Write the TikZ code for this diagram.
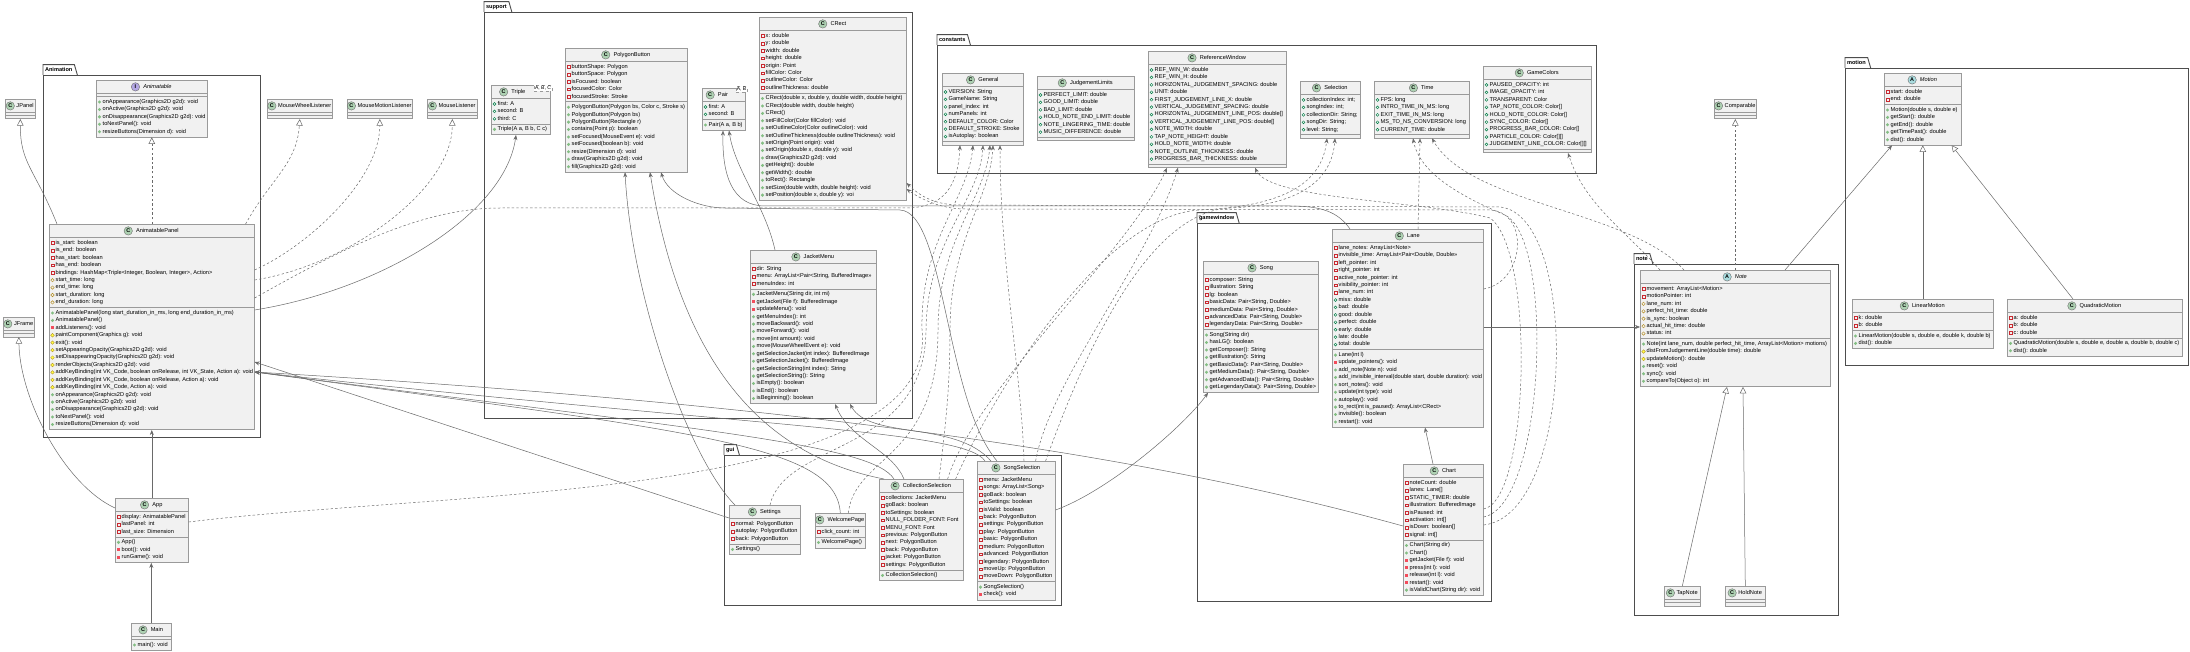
\documentclass[tikz,border=0pt]{standalone}
\usepackage{fontspec}
\setmainfont{Liberation Sans}
\usetikzlibrary{arrows.meta,calc}

\definecolor{boxfill}{HTML}{F1F1F1}
\definecolor{boxline}{HTML}{9A9A9A}
\definecolor{pkgline}{HTML}{4D4D4D}
\definecolor{conn}{HTML}{6A6A6A}
\definecolor{kcC}{HTML}{ADD1B2}
\definecolor{kcA}{HTML}{A9DCDF}
\definecolor{kcI}{HTML}{B4A7E5}
\definecolor{icondraw}{HTML}{6E6E6E}
\definecolor{pubF}{HTML}{038048}
\definecolor{pubM}{HTML}{84BE84}
\definecolor{privF}{HTML}{C82930}
\definecolor{privM}{HTML}{F24D5C}
\definecolor{protF}{HTML}{B38D22}
\definecolor{protM}{HTML}{FFFF44}

\newcommand\memfont{\fontsize{5.65}{6.5}\selectfont}
\newcommand\kindfont{\fontsize{5.4}{6}\selectfont\bfseries}
\newcommand\pkgfont{\fontsize{5.6}{6.5}\selectfont\bfseries}
\newcommand\tmplfont{\fontsize{5}{6}\selectfont}
\newcommand\kfC{}
\newcommand\kfA{\itshape}
\newcommand\kfI{\itshape}
\newcommand\ttlshift{0}

\tikzset{
  box/.style={draw=boxline, fill=boxfill, line width=0.6pt, inner sep=0pt, anchor=north west},
  sepline/.style={draw=boxline, line width=0.6pt},
  mem/.style={font=\memfont, anchor=west, inner sep=0pt, text height=4pt, text depth=1.2pt},
  ttl/.style={font=\memfont, inner sep=0pt, text height=4.1pt, text depth=1.2pt},
  kindletter/.style={font=\kindfont, inner sep=0pt, text height=3.8pt, text depth=0pt},
  kindcircle/.style={draw=icondraw, line width=0.4pt},
  pkgbox/.style={draw=pkgline, fill=white, line width=0.9pt, inner sep=0pt, anchor=north west},
  pkgtab/.style={font=\pkgfont, anchor=south west, inner xsep=1.8pt, inner ysep=0pt, text height=4.4pt, text depth=1.4pt, minimum height=10pt},
  pkgedge/.style={draw=pkgline, line width=0.9pt},
  tmpl/.style={draw=boxline, dashed, fill=white, font=\tmplfont, inner xsep=1pt, inner ysep=0.8pt, line width=0.5pt},
  assoc/.style={draw=conn, line width=0.5pt, -{Stealth[length=5pt,width=4pt]}},
  dep/.style={assoc, dash pattern=on 2.4pt off 2.2pt},
  ext/.style={draw=conn, line width=0.5pt, -{Triangle[length=6.5pt,width=6.5pt,fill=white]}},
  impl/.style={ext, dash pattern=on 2.4pt off 2.2pt}
}

\newcommand\icFp[2]{\draw[draw=pubF, line width=0.45pt] (#1,#2) circle (1.45pt);}
\newcommand\icMp[2]{\fill[pubM] (#1,#2) circle (1.65pt);}
\newcommand\icFr[2]{\draw[draw=privF, line width=0.45pt] ({#1-1.4},{#2-1.4}) rectangle ({#1+1.4},{#2+1.4});}
\newcommand\icMr[2]{\fill[privM] ({#1-1.55},{#2-1.55}) rectangle ({#1+1.55},{#2+1.55});}
\newcommand\icFo[2]{\draw[draw=protF, line width=0.45pt] ({#1-1.7},#2) -- (#1,{#2-1.7}) -- ({#1+1.7},#2) -- (#1,{#2+1.7}) -- cycle;}
\newcommand\icMo[2]{\filldraw[fill=protM, draw=protF, line width=0.35pt] ({#1-1.8},#2) -- (#1,{#2-1.8}) -- ({#1+1.8},#2) -- (#1,{#2+1.8}) -- cycle;}

% id, L, T, W, kind, title, fields, methods
\newcommand\umlclass[8]{%
  \def\ucF{#7}\def\ucM{#8}%
  \gdef\nF{0}\gdef\nM{0}%
  \ifx\ucF\empty\else\foreach \vis/\mtxt [count=\n] in {#7}{\xdef\nF{\n}}\fi
  \ifx\ucM\empty\else\foreach \vis/\mtxt [count=\n] in {#8}{\xdef\nM{\n}}\fi
  \pgfmathsetmacro\hF{\nF==0 ? 3 : \nF*7.43+3.1}%
  \pgfmathsetmacro\hM{\nM==0 ? 3 : \nM*7.43+3.1}%
  \pgfmathsetmacro\hT{13.5+\hF+\hM}%
  \pgfmathsetmacro\yF{#3+13.5}%
  \pgfmathsetmacro\yM{#3+13.5+\hF}%
  \node[box, minimum width=#4pt, minimum height=\hT pt] (#1) at (#2,#3) {};
  \draw[sepline] (#2,\yF) -- ++(#4,0);
  \draw[sepline] (#2,\yM) -- ++(#4,0);
  \node[ttl] (#1-t) at ({#2+#4/2+5.9+\ttlshift},{#3+6.9}) {\csname kf#5\endcsname #6};
  \filldraw[kindcircle, fill=kc#5] ($(#1-t.west)+(-7.6,0)$) circle (4.2pt);
  \node[kindletter] (#1-k) at ($(#1-t.west)+(-7.6,0)$) {#5};
  \ifx\ucF\empty\else
    \foreach \vis/\mtxt [count=\i] in {#7}{%
      \pgfmathsetmacro\yy{\yF+5.5+(\i-1)*7.43}%
      \csname icF\vis\endcsname{#2+3.5}{\yy}%
      \node[mem] (#1-f\i) at ({#2+6.5},\yy) {\mtxt};}%
  \fi
  \ifx\ucM\empty\else
    \foreach \vis/\mtxt [count=\i] in {#8}{%
      \pgfmathsetmacro\yy{\yM+5.5+(\i-1)*7.43}%
      \csname icM\vis\endcsname{#2+3.5}{\yy}%
      \node[mem] (#1-m\i) at ({#2+6.5},\yy) {\mtxt};}%
  \fi
}

% id, L, T, W, title
\newcommand\umlempty[5]{%
  \node[box, minimum width=#4pt, minimum height=19.5pt] (#1) at (#2,#3) {};
  \draw[sepline] (#2,{#3+13.5}) -- ++(#4,0);
  \draw[sepline] (#2,{#3+16.5}) -- ++(#4,0);
  \node[ttl] (#1-t) at ({#2+#4/2+5.1},{#3+6.9}) {#5};
  \filldraw[kindcircle, fill=kcC] ($(#1-t.west)+(-6,0)$) circle (4.2pt);
  \node[kindletter] (#1-k) at ($(#1-t.west)+(-6,0)$) {C};
}

% id, L, T, R, B, name
\newcommand\umlpkg[6]{%
  \pgfmathsetmacro\pw{#4-#2}\pgfmathsetmacro\ph{#5-#3}%
  \node[pkgbox, minimum width=\pw pt, minimum height=\ph pt] (#1) at (#2,#3) {};
  \node[pkgtab] (#1-tab) at (#2,#3) {#6};
  \draw[pkgedge] (#1-tab.south west) -- (#1-tab.north west) -- (#1-tab.north east) -- ($(#1-tab.south east)+(3,0)$);
}

\begin{document}
\begin{tikzpicture}[x=1pt,y=-1pt]
\useasboundingbox (0,0) rectangle (2190,652);
\fill[white] (0,0) rectangle (2190,652);

% ---------------- packages
\umlpkg{pkgAnim}{43}{75}{260}{437}{Animation}
\umlpkg{pkgSupport}{484}{12}{912}{418}{support}
\umlpkg{pkgConst}{937}{45}{1596}{173}{constants}
\umlpkg{pkgMotion}{1845}{68}{2188}{365}{motion}
\umlpkg{pkgNote}{1634}{264}{1838}{615}{note}
\umlpkg{pkgGame}{1197}{223}{1491}{601}{gamewindow}
\umlpkg{pkgGui}{724}{455}{1061}{605}{gui}

% ---------------- external / empty classes
\umlempty{JPanel}{5}{99}{30}{JPanel}
\umlempty{MWL}{267}{99}{65}{MouseWheelListener}
\umlempty{MML}{347}{99}{65}{MouseMotionListener}
\umlempty{ML}{427}{99}{50}{MouseListener}
\umlempty{JFrame}{3}{317}{31}{JFrame}
\umlempty{Comp}{1714}{99}{42}{Comparable}
\umlempty{TapNote}{1664}{586}{36}{TapNote}
\umlempty{HoldNote}{1725}{586}{40}{HoldNote}

% ---------------- Animation
\umlclass{Anim}{96}{80}{111}{I}{Animatable}{}{%
p/onAppearance(Graphics2D g2d): void,
p/onActive(Graphics2D g2d): void,
p/onDisappearance(Graphics2D g2d): void,
p/toNextPanel(): void,
p/resizeButtons(Dimension d): void}

\umlclass{AP}{49}{224}{205}{C}{AnimatablePanel}{%
r/is\_start: boolean,
r/is\_end: boolean,
r/has\_start: boolean,
r/has\_end: boolean,
r/{bindings: HashMap<Triple<Integer, Boolean, Integer>, Action>},
o/start\_time: long,
o/end\_time: long,
o/start\_duration: long,
o/end\_duration: long}{%
p/{AnimatablePanel(long start\_duration\_in\_ms, long end\_duration\_in\_ms)},
p/AnimatablePanel(),
r/addListeners(): void,
o/paintComponent(Graphics g): void,
o/exit(): void,
o/setAppearingOpacity(Graphics2D g2d): void,
o/setDisappearingOpacity(Graphics2D g2d): void,
o/renderObjects(Graphics2D g2d): void,
o/{addKeyBinding(int VK\_Code, boolean onRelease, int VK\_State, Action a): void},
o/{addKeyBinding(int VK\_Code, boolean onRelease, Action a): void},
o/{addKeyBinding(int VK\_Code, Action a): void},
p/onAppearance(Graphics2D g2d): void,
p/onActive(Graphics2D g2d): void,
p/onDisappearance(Graphics2D g2d): void,
p/toNextPanel(): void,
p/resizeButtons(Dimension d): void}

\umlclass{App}{115}{498}{73}{C}{App}{%
r/display: AnimatablePanel,
r/lastPanel: int,
r/last\_size: Dimension}{%
p/App(),
r/boot(): void,
r/runGame(): void}

\umlclass{Main}{131}{623}{40}{C}{Main}{}{p/main(): void}

% ---------------- support
\renewcommand\ttlshift{-8}
\umlclass{Triple}{491}{85}{59}{C}{Triple}{%
p/first: A,
p/second: B,
p/third: C}{%
p/{Triple(A a, B b, C c)}}
\node[tmpl] (TripleG) at (543,88) {A, B, C};

\renewcommand\ttlshift{-6.4}
\umlclass{Pair}{702}{88}{43}{C}{Pair}{%
p/first: A,
p/second: B}{%
p/{Pair(A a, B b)}}
\node[tmpl] (PairG) at (741.5,89.5) {A, B};
\renewcommand\ttlshift{0}

\umlclass{PB}{565}{48}{122}{C}{PolygonButton}{%
r/buttonShape: Polygon,
r/buttonSpace: Polygon,
r/isFocused: boolean,
r/focusedColor: Color,
r/focusedStroke: Stroke}{%
p/{PolygonButton(Polygon bs, Color c, Stroke s)},
p/PolygonButton(Polygon bs),
p/PolygonButton(Rectangle r),
p/contains(Point p): boolean,
p/setFocused(MouseEvent e): void,
p/setFocused(boolean b): void,
p/resize(Dimension d): void,
p/draw(Graphics2D g2d): void,
p/fill(Graphics2D g2d): void}

\umlclass{CRect}{759}{17}{147}{C}{CRect}{%
r/x: double,
r/y: double,
r/width: double,
r/height: double,
r/origin: Point,
r/fillColor: Color,
r/outlineColor: Color,
r/outlineThickness: double}{%
p/{CRect(double x, double y, double width, double height)},
p/{CRect(double width, double height)},
p/CRect(),
p/setFillColor(Color fillColor): void,
p/setOutlineColor(Color outlineColor): void,
p/setOutlineThickness(double outlineThickness): void,
p/setOrigin(Point origin): void,
p/{setOrigin(double x, double y): void},
p/draw(Graphics2D g2d): void,
p/getHeight(): double,
p/getWidth(): double,
p/toRect(): Rectangle,
p/{setSize(double width, double height): void},
p/{setPosition(double x, double y): voi}}

\umlclass{JM}{750}{250}{126}{C}{JacketMenu}{%
r/dir: String,
r/{menu: ArrayList<Pair<String, BufferedImage>>},
r/menuIndex: int}{%
p/{JacketMenu(String dir, int mi)},
r/getJacket(File f): BufferedImage,
r/updateMenu(): void,
p/getMenuIndex(): int,
p/moveBackward(): void,
p/moveForward(): void,
p/move(int amount): void,
p/move(MouseWheelEvent e): void,
p/getSelectionJacket(int index): BufferedImage,
p/getSelectionJacket(): BufferedImage,
p/getSelectionString(int index): String,
p/getSelectionString(): String,
p/isEmpty(): boolean,
p/isEnd(): boolean,
p/isBeginning(): boolean}

% ---------------- constants
\umlclass{General}{942}{73}{81}{C}{General}{%
p/VERSION: String,
p/GameName: String,
p/panel\_index: int,
p/numPanels: int,
p/DEFAULT\_COLOR: Color,
p/DEFAULT\_STROKE: Stroke,
p/isAutoplay: boolean}{}

\umlclass{JL}{1037}{76}{97}{C}{JudgementLimits}{%
p/PERFECT\_LIMIT: double,
p/GOOD\_LIMIT: double,
p/BAD\_LIMIT: double,
p/HOLD\_NOTE\_END\_LIMIT: double,
p/NOTE\_LINGERING\_TIME: double,
p/MUSIC\_DIFFERENCE: double}{}

\umlclass{RW}{1148}{51}{138}{C}{ReferenceWindow}{%
p/REF\_WIN\_W: double,
p/REF\_WIN\_H: double,
p/HORIZONTAL\_JUDGEMENT\_SPACING: double,
p/UNIT: double,
p/FIRST\_JUDGEMENT\_LINE\_X: double,
p/VERTICAL\_JUDGEMENT\_SPACING: double,
p/HORIZONTAL\_JUDGEMENT\_LINE\_POS: double[],
p/VERTICAL\_JUDGEMENT\_LINE\_POS: double[],
p/NOTE\_WIDTH: double,
p/TAP\_NOTE\_HEIGHT: double,
p/HOLD\_NOTE\_WIDTH: double,
p/NOTE\_OUTLINE\_THICKNESS: double,
p/PROGRESS\_BAR\_THICKNESS: double}{}

\umlclass{Sel}{1300}{81}{60}{C}{Selection}{%
p/collectionIndex: int;,
p/songIndex: int;,
p/collectionDir: String;,
p/songDir: String;,
p/level: String;}{}

\umlclass{Time}{1374}{81}{95}{C}{Time}{%
p/FPS: long,
p/INTRO\_TIME\_IN\_MS: long,
p/EXIT\_TIME\_IN\_MS: long,
p/MS\_TO\_NS\_CONVERSION: long,
p/CURRENT\_TIME: double}{}

\umlclass{GC}{1483}{66}{108}{C}{GameColors}{%
p/PAUSED\_OPACITY: int,
p/IMAGE\_OPACITY: int,
p/TRANSPARENT: Color,
p/TAP\_NOTE\_COLOR: Color[],
p/HOLD\_NOTE\_COLOR: Color[],
p/SYNC\_COLOR: Color[],
p/PROGRESS\_BAR\_COLOR: Color[],
p/PARTICLE\_COLOR: Color[][],
p/JUDGEMENT\_LINE\_COLOR: Color[][]}{}

% ---------------- motion
\umlclass{Motion}{1884}{73}{77}{A}{Motion}{%
r/start: double,
r/end: double}{%
p/{Motion(double s, double e)},
p/getStart(): double,
p/getEnd(): double,
p/getTimePast(): double,
p/dist(): double}

\umlclass{LM}{1852}{299}{141}{C}{LinearMotion}{%
r/k: double,
r/b: double}{%
p/{LinearMotion(double s, double e, double k, double b)},
p/dist(): double}

\umlclass{QM}{2007}{299}{175}{C}{QuadraticMotion}{%
r/a: double,
r/b: double,
r/c: double}{%
p/{QuadraticMotion(double s, double e, double a, double b, double c)},
p/dist(): double}

% ---------------- note
\umlclass{Note}{1640}{270}{190}{A}{Note}{%
r/{movement: ArrayList<Motion>},
r/motionPointer: int,
o/lane\_num: int,
o/perfect\_hit\_time: double,
o/is\_sync: boolean,
o/actual\_hit\_time: double,
o/status: int}{%
p/{Note(int lane\_num, double perfect\_hit\_time, ArrayList<Motion> motions)},
o/distFromJudgementLine(double time): double,
o/updateMotion(): double,
p/reset(): void,
p/sync(): void,
p/compareTo(Object o): int}

% ---------------- gamewindow
\umlclass{Song}{1203}{261}{115}{C}{Song}{%
r/composer: String,
r/illustration: String,
r/lg: boolean,
r/{basicData: Pair<String, Double>},
r/{mediumData: Pair<String, Double>},
r/{advancedData: Pair<String, Double>},
r/{legendaryData: Pair<String, Double>}}{%
p/Song(String dir),
p/hasLG(): boolean,
p/getComposer(): String,
p/getIllustration(): String,
p/{getBasicData(): Pair<String, Double>},
p/{getMediumData(): Pair<String, Double>},
p/{getAdvancedData(): Pair<String, Double>},
p/{getLegendaryData(): Pair<String, Double>}}

\umlclass{Lane}{1332}{229}{151}{C}{Lane}{%
r/{lane\_notes: ArrayList<Note>},
r/{invisible\_time: ArrayList<Pair<Double, Double>>},
r/left\_pointer: int,
r/right\_pointer: int,
r/active\_note\_pointer: int,
r/visibility\_pointer: int,
r/lane\_num: int,
p/miss: double,
p/bad: double,
p/good: double,
p/perfect: double,
p/early: double,
p/late: double,
p/total: double}{%
p/Lane(int l),
r/update\_pointers(): void,
p/add\_note(Note n): void,
p/{add\_invisible\_interval(double start, double duration): void},
p/sort\_notes(): void,
p/update(int type): void,
p/autoplay(): void,
p/{to\_rect(int is\_paused): ArrayList<CRect>},
p/invisible(): boolean,
p/restart(): void}

\umlclass{Chart}{1403}{464}{80}{C}{Chart}{%
r/noteCount: double,
r/lanes: Lane[],
r/STATIC\_TIMER: double,
r/illustration: BufferedImage,
r/isPaused: int,
r/activation: int[],
r/isDown: boolean[],
r/signal: int[]}{%
p/Chart(String dir),
p/Chart(),
r/getJacket(File f): void,
r/press(int l): void,
r/release(int l): void,
r/restart(): void,
p/isValidChart(String dir): void}

% ---------------- gui
\umlclass{Settings}{729}{505}{71}{C}{Settings}{%
r/normal: PolygonButton,
r/autoplay: PolygonButton,
r/back: PolygonButton}{%
p/Settings()}

\umlclass{WP}{815}{513}{50}{C}{WelcomePage}{%
r/click\_count: int}{%
p/WelcomePage()}

\umlclass{CS}{879}{479}{84}{C}{CollectionSelection}{%
r/collections: JacketMenu,
r/goBack: boolean,
r/toSettings: boolean,
r/NULL\_FOLDER\_FONT: Font,
r/MENU\_FONT: Font,
r/previous: PolygonButton,
r/next: PolygonButton,
r/back: PolygonButton,
r/jacket: PolygonButton,
r/settings: PolygonButton}{%
p/CollectionSelection()}

\umlclass{SS}{977}{461}{78}{C}{SongSelection}{%
r/menu: JacketMenu,
r/{songs: ArrayList<Song>},
r/goBack: boolean,
r/toSettings: boolean,
r/isValid: boolean,
r/back: PolygonButton,
r/settings: PolygonButton,
r/play: PolygonButton,
r/basic: PolygonButton,
r/medium: PolygonButton,
r/advanced: PolygonButton,
r/legendary: PolygonButton,
r/moveUp: PolygonButton,
r/moveDown: PolygonButton}{%
p/SongSelection(),
r/check(): void}

% ================= connectors
% Animation
\draw[ext] ($(AP.north west)+(8,0)$) .. controls +(-22,-55) and +(0,45) .. (JPanel.south);
\draw[impl] (Anim.south |- AP.north) -- (Anim.south);
\draw[impl] ($(AP.north east)+(-9,0)$) .. controls +(25,-45) and +(-3,45) .. (MWL.south);
\draw[impl] ($(AP.north east)+(0,46)$) .. controls +(55,-25) and +(0,60) .. (MML.south);
\draw[impl] ($(AP.north east)+(0,56)$) .. controls +(95,-15) and +(0,70) .. (ML.south);
\draw[dep] ($(AP.north east)+(0,74)$) .. controls (340,250) and (420,208) .. (500,208) -- (905,208) .. controls (945,208) and (958,185) .. ($(General.south west)+(18,0)$);
\draw[assoc] ($(AP.north east)+(0,86)$) .. controls (380,290) and (505,215) .. ($(Triple.south west)+(25,0)$);
\draw[assoc] (App.north) -- (App.north |- AP.south);
\draw[assoc] (Main.north) -- (Main.north |- App.south);
\draw[ext] ($(App.north west)+(0,10)$) .. controls (65,485) and (20,400) .. (JFrame.south);
\draw[dep] ($(App.north east)+(0,24)$) .. controls (450,490) and (940,500) .. (922,330) .. controls (920,240) and (968,200) .. ($(General.south west)+(31,0)$);

% gui
\draw[assoc] ($(Settings.north west)+(0,13)$) -- ($(AP.north east)+(0,138)$);
\draw[assoc] ($(Settings.north west)+(6,0)$) .. controls (690,460) and (632,300) .. ($(PB.south west)+(60,0)$);
\draw[dep] ($(Settings.north west)+(41,0)$) .. controls (785,440) and (925,455) .. (926,330) .. controls (927,240) and (980,200) .. ($(General.south west)+(41,0)$);
\draw[assoc] (WP.north) .. controls (836,445) and (700,432) .. ($(AP.north east)+(0,148)$);
\draw[dep] ($(WP.north)+(8,0)$) .. controls (855,455) and (938,460) .. (938,330) .. controls (938,240) and (985,200) .. ($(General.south west)+(48,0)$);
\draw[assoc] ($(CS.north west)+(15,0)$) .. controls (872,445) and (720,432) .. ($(AP.north east)+(0,148)$);
\draw[assoc] ($(CS.north west)+(5,0)$) .. controls (760,455) and (680,360) .. ($(PB.south west)+(85,0)$);
\draw[assoc] ($(CS.north west)+(25,0)$) .. controls (892,450) and (850,440) .. ($(JM.south west)+(85,0)$);
\draw[dep] ($(CS.north west)+(60,0)$) .. controls (945,430) and (950,390) .. (950,330) .. controls (950,240) and (990,200) .. ($(General.south west)+(51,0)$);
\draw[dep] ($(CS.north east)+(-8,0)$) .. controls (990,400) and (1100,215) .. (1200,210) .. controls (1290,206) and (1322,180) .. ($(Sel.south west)+(27,0)$);
\draw[dep] ($(CS.north east)+(-16,0)$) .. controls (975,390) and (1130,250) .. ($(RW.south west)+(19,0)$);
\draw[assoc] ($(SS.north west)+(8,0)$) .. controls (965,430) and (760,428) .. ($(AP.north east)+(0,148)$);
\draw[assoc] ($(SS.north west)+(14,0)$) .. controls (955,420) and (870,440) .. ($(JM.south west)+(100,0)$);
\draw[assoc] ($(SS.north west)+(20,0)$) .. controls (945,400) and (945,212) .. (900,210) -- (725,208) .. controls (700,208) and (668,195) .. ($(PB.south west)+(96,0)$);
\draw[dep] ($(SS.north west)+(47,0)$) .. controls (1022,380) and (1000,260) .. ($(General.south west)+(58,0)$);
\draw[dep] ($(SS.north east)+(-10,0)$) .. controls (1075,380) and (1140,212) .. (1230,208) .. controls (1300,205) and (1332,180) .. ($(Sel.south west)+(35,0)$);
\draw[dep] ($(SS.north east)+(-20,0)$) .. controls (1050,380) and (1150,260) .. ($(RW.south west)+(30,0)$);
\draw[assoc] ($(SS.north east)+(0,49)$) .. controls (1110,490) and (1185,425) .. ($(Song.south west)+(5,0)$);

% support
\draw[assoc] ($(JM.north west)+(25,0)$) .. controls (765,205) and (735,170) .. ($(Pair.south west)+(27,0)$);

% gamewindow
\draw[assoc] ($(Chart.north west)+(30,0)$) -- ($(Lane.south west)+(93,0)$);
\coordinate (lnA) at ($(Lane.north east)+(0,98)$);
\draw[assoc] (lnA) -- (lnA -| Note.west);
\draw[assoc] ($(Chart.north west)+(0,62)$) .. controls (1200,470) and (900,410) .. ($(AP.north east)+(0,148)$);
\draw[assoc] ($(Lane.north west)+(18,0)$) .. controls (1338,212) and (1322,206) .. (1290,206) -- (765,206) .. controls (732,206) and (722,175) .. ($(Pair.south west)+(21,0)$);
\draw[dep] ($(Lane.north west)+(86,0)$) -- ($(Time.south west)+(46,0)$);
\draw[dep] ($(Lane.north east)+(0,60)$) .. controls (1525,282) and (1530,212) .. (1490,210) -- (965,209) .. controls (938,209) and (916,196) .. ($(CRect.north east)+(0,172)$);
\draw[dep] ($(Chart.north east)+(0,53)$) .. controls (1545,505) and (1555,240) .. (1505,215) .. controls (1465,198) and (1420,175) .. ($(Time.south west)+(39,0)$);
\draw[dep] ($(Chart.north east)+(0,61)$) .. controls (1575,515) and (1580,215) .. (1500,207) -- (960,205) .. controls (930,205) and (916,192) .. ($(CRect.north east)+(0,166)$);
\draw[dep] ($(Chart.north east)+(0,45)$) .. controls (1530,500) and (1535,250) .. (1490,218) .. controls (1420,200) and (1270,200) .. ($(RW.south west)+(107,0)$);

% note & motion
\draw[impl] (Comp.south |- Note.north) -- (Comp.south);
\draw[assoc] ($(Note.north west)+(145,0)$) -- ($(Motion.south west)+(8,0)$);
\draw[dep] ($(Note.north west)+(20,0)$) .. controls (1625,230) and (1585,205) .. ($(GC.south west)+(85,0)$);
\draw[dep] ($(Note.north west)+(44,0)$) .. controls (1630,210) and (1470,205) .. ($(Time.south west)+(58,0)$);
\draw[ext] (LM.north) -- (Motion.south);
\draw[ext] ($(QM.north west)+(66,0)$) -- ($(Motion.south east)+(-10,0)$);
\draw[ext] (TapNote.north) -- ($(Note.south west)+(87,0)$);
\draw[ext] (HoldNote.north) -- ($(Note.south west)+(103,0)$);
\end{tikzpicture}
\end{document}
